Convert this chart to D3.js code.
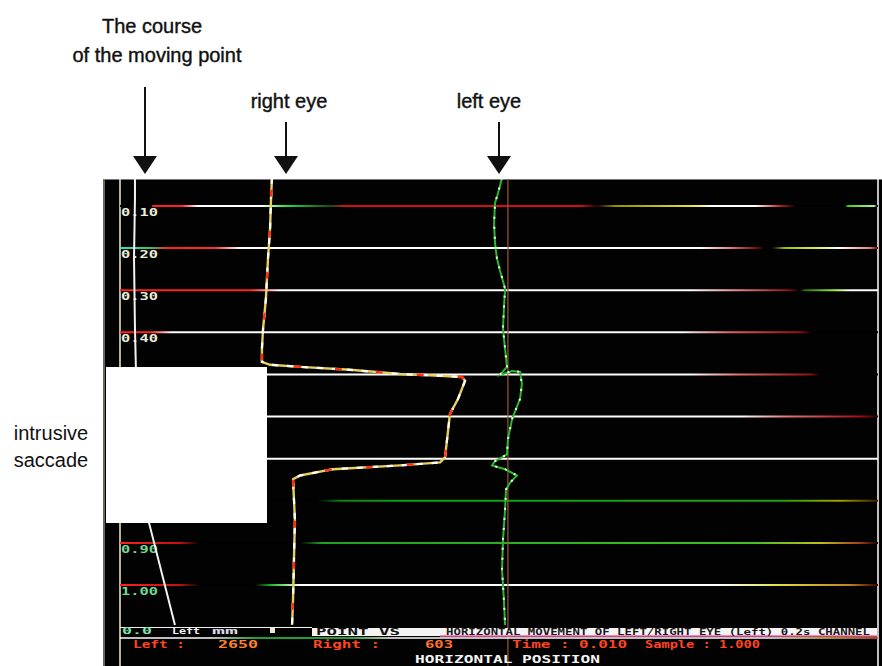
<!DOCTYPE html>
<html>
<head>
<meta charset="utf-8">
<script src="https://cdn.jsdelivr.net/npm/d3@7"></script>
<style>
  body{margin:0;background:#fff;}
  svg{display:block;}
</style>
</head>
<body>
<div id="chart-area"></div>
<script>
// Eye tracker recording: time runs downwards, horizontal position across

// time grid (s) and its labels
var tickTimes = [0.1,0.2,0.3,0.4,0.5,0.6,0.7,0.8,0.9,1.0]
var tickLabels = ["0.10","0.20","0.30","0.40","0.50","0.60","0.70","0.80","0.90","1.00"]

// the moving point (time s, horizontal position deg)
var pointTime = [0.033,0.081,0.224,0.391,0.487,0.852,1.095]
var pointPos  = [-19.21,-19.21,-19.26,-19.21,-19.16,-18.47,-17.10]

// right eye
var rightTime = [0.033,0.081,0.153,0.224,0.320,0.391,0.439,0.470,0.477,0.482,0.489,0.499,0.503,0.506,
                 0.515,0.558,0.594,0.654,0.697,0.709,0.716,0.725,0.740,0.749,0.797,0.845,0.940,1.036,1.095]
var rightPos  = [-11.98,-12.03,-12.08,-12.19,-12.30,-12.45,-12.51,-12.51,-12.08,-10.50,-7.86,-5.22,-3.11,-1.95,
                 -1.79,-2.16,-2.59,-2.74,-2.85,-3.11,-5.22,-8.76,-10.50,-10.87,-10.82,-10.77,-10.82,-10.87,-10.92]

// left eye
var leftTime = [0.033,0.069,0.093,0.141,0.188,0.224,0.253,0.296,0.343,0.391,0.439,0.482,0.501,0.492,0.494,
                0.523,0.558,0.606,0.654,0.690,0.706,0.716,0.725,0.740,0.756,0.773,0.821,0.893,0.964,1.036,1.095]
var leftPos  = [0.16,-0.05,-0.21,-0.26,-0.21,-0.11,0.05,0.32,0.26,0.21,0.32,0.42,0.05,0.69,1.11,
                1.21,1.11,0.69,0.47,0.42,-0.21,-0.37,0.32,0.95,0.60,0.37,0.32,0.21,0.16,0.26,0.32]

// target centre marker
var centerPos = 0.47

// colour of each grid row along its length: [pixel x, colour]
var rowStyles = [
  [[120,"#000"],[151,"#000"],[153,"#ff2020"],[182,"#ff2020"],[198,"#fff"],[262,"#fff"],[285,"#30e040"],[330,"#105010"],[345,"#d01010"],[580,"#d01010"],[598,"#200"],[615,"#909000"],[690,"#e0e040"],[712,"#fff"],[755,"#fff"],[780,"#c02020"],[796,"#000"],[845,"#000"],[848,"#40d020"],[874,"#b0f090"],[877,"#000"]],
  [[120,"#40e0d0"],[150,"#40c060"],[168,"#ff2020"],[215,"#ff3030"],[240,"#fff"],[700,"#fff"],[730,"#e08080"],[755,"#801010"],[765,"#000"],[772,"#000"],[785,"#a0c000"],[820,"#e0f060"],[840,"#fff"],[870,"#e08080"],[877,"#800"]],
  [[120,"#ff2020"],[250,"#ff2020"],[280,"#fff"],[690,"#fff"],[740,"#e08080"],[790,"#801010"],[800,"#000"],[805,"#207010"],[835,"#a0f040"],[850,"#fff"],[877,"#fff"]],
  [[120,"#ff2020"],[150,"#ff2020"],[172,"#fff"],[680,"#fff"],[730,"#e06060"],[800,"#901010"],[812,"#000"],[877,"#000"]],
  [[120,"#fff"],[690,"#fff"],[740,"#e07070"],[810,"#901010"],[820,"#000"],[877,"#000"]],
  [[120,"#fff"],[740,"#fff"],[790,"#e07070"],[860,"#a01010"],[877,"#300"]],
  [[120,"#fff"],[877,"#fff"]],
  [[120,"#000"],[318,"#000"],[340,"#108010"],[400,"#10a010"],[780,"#20a010"],[840,"#a0a000"],[877,"#402000"]],
  [[120,"#ff2020"],[180,"#c01010"],[200,"#000"],[300,"#000"],[322,"#20a020"],[750,"#40c020"],[820,"#c0c020"],[860,"#a04010"],[877,"#200"]],
  [[120,"#ff2020"],[180,"#c01010"],[200,"#000"],[255,"#000"],[272,"#20c020"],[300,"#fff"],[720,"#fff"],[780,"#e0e040"],[850,"#c08020"],[877,"#400"]]
]

var W = 882, H = 666
var panel = {left:103, top:179, right:882, bottom:666}

var svg = d3.select("#chart-area").append("svg")
    .attr("width",W).attr("height",H)
    .style("font-family","'Liberation Sans', Arial, sans-serif")

//Scales
var x = d3.scaleLinear().domain([-20,20]).range([120,878])
var y = d3.scaleLinear().domain([0.1,1.0]).range([206,585])

var defs = svg.append("defs")
defs.append("clipPath").attr("id","panelClip")
  .append("rect")
    .attr("x",panel.left).attr("y",panel.top)
    .attr("width",panel.right-panel.left).attr("height",panel.bottom-panel.top)

rowStyles.forEach((stops,i)=>{
    var g = defs.append("linearGradient")
        .attr("id","row"+i)
        .attr("gradientUnits","userSpaceOnUse")
        .attr("x1",120).attr("x2",878).attr("y1",0).attr("y2",0)
    stops.forEach((s)=>{
        g.append("stop")
            .attr("offset",Math.max(0,Math.min(1,(s[0]-120)/758)))
            .attr("stop-color",s[1])
    })
})

//Black screen
svg.append("rect")
    .attr("x",panel.left).attr("y",panel.top)
    .attr("width",panel.right-panel.left).attr("height",panel.bottom-panel.top)
    .attr("fill","#020202")

var screen = svg.append("g").attr("clip-path","url(#panelClip)")

//Screen borders
screen.append("line")
    .attr("x1",panel.left+1).attr("x2",panel.left+1).attr("y1",panel.top).attr("y2",panel.bottom)
    .attr("stroke","#8a8a80").attr("stroke-width",1.5)
screen.append("line")
    .attr("x1",panel.left).attr("x2",panel.right).attr("y1",panel.top+0.5).attr("y2",panel.top+0.5)
    .attr("stroke","#777").attr("stroke-width",1)
screen.append("line")
    .attr("x1",x(-20)).attr("x2",x(-20)).attr("y1",panel.top).attr("y2",panel.bottom)
    .attr("stroke","#e8e0b8").attr("stroke-width",1.6)
screen.append("line")
    .attr("x1",x(20)).attr("x2",x(20)).attr("y1",panel.top).attr("y2",panel.bottom)
    .attr("stroke","#f0f0f0").attr("stroke-width",1.6)

//Grid rows
screen.selectAll(".row")
    .data(tickTimes)
  .enter().append("line")
    .attr("class","row")
    .attr("x1",x(-20)).attr("x2",x(20))
    .attr("y1",(d)=>y(d)).attr("y2",(d)=>y(d))
    .attr("stroke",(d,i)=>"url(#row"+i+")")
    .attr("stroke-width",2)

//Centre marker
screen.append("line")
    .attr("x1",x(centerPos)).attr("x2",x(centerPos))
    .attr("y1",panel.top).attr("y2",panel.bottom)
    .attr("stroke","#9a5a3a").attr("stroke-width",1.4).attr("opacity",0.85)

//Time labels
screen.selectAll(".tlabel")
    .data(tickTimes)
  .enter().append("text")
    .attr("class","tlabel")
    .attr("x",x(-20)+1)
    .attr("y",(d)=>y(d)+10)
    .attr("textLength",37).attr("lengthAdjust","spacingAndGlyphs")
    .attr("font-family","'DejaVu Sans Mono', monospace")
    .attr("font-weight","bold").attr("font-size","10px")
    .attr("fill",(d)=>d>0.85 ? "#70d890" : "#e8eed8")
    .text((d,i)=>tickLabels[i])

var line = d3.line().x((d)=>x(d[1])).y((d)=>y(d[0]))
var pointData = d3.zip(pointTime,pointPos)
var rightData = d3.zip(rightTime,rightPos)
var leftData = d3.zip(leftTime,leftPos)

//Moving point
screen.append("path").datum(pointData)
    .attr("d",line).attr("fill","none")
    .attr("stroke","#f2f2f2").attr("stroke-width",2)

//Right eye
screen.append("path").datum(rightData)
    .attr("d",line).attr("fill","none")
    .attr("stroke","#e8d060").attr("stroke-width",2.4)
screen.append("path").datum(rightData)
    .attr("d",line).attr("fill","none")
    .attr("stroke","#ffffff").attr("stroke-width",2.2)
    .attr("stroke-dasharray","6 9")
screen.append("path").datum(rightData)
    .attr("d",line).attr("fill","none")
    .attr("stroke","#ff3010").attr("stroke-width",2.4)
    .attr("stroke-dasharray","7 34").attr("stroke-dashoffset",-12)

//Left eye
screen.append("path").datum(leftData)
    .attr("d",line).attr("fill","none")
    .attr("stroke","#2cb82c").attr("stroke-width",2)
screen.append("path").datum(leftData)
    .attr("d",line).attr("fill","none")
    .attr("stroke","#f0fff0").attr("stroke-width",2)
    .attr("stroke-dasharray","2 8")

//Status area at the bottom of the screen
var mono = "'DejaVu Sans Mono', monospace"
screen.append("line")
    .attr("x1",x(-20)).attr("x2",312).attr("y1",627.5).attr("y2",627.5)
    .attr("stroke","#e8f0f0").attr("stroke-width",1.2)
screen.append("rect")
    .attr("x",312).attr("y",628).attr("width",565).attr("height",8)
    .attr("fill","#f4f4f4")
screen.append("line")
    .attr("x1",440).attr("x2",877).attr("y1",636).attr("y2",636)
    .attr("stroke","#ff5cb0").attr("stroke-width",1.6)
var statusLine = defs.append("linearGradient").attr("id","statusLine")
    .attr("gradientUnits","userSpaceOnUse").attr("x1",120).attr("x2",878).attr("y1",0).attr("y2",0)
;[[0,"#fff"],[0.12,"#fff"],[0.18,"#30d040"],[0.3,"#30d040"],[0.36,"#fff"],[0.85,"#fff"],[0.93,"#e0d040"],[1,"#d06020"]]
    .forEach((s)=>statusLine.append("stop").attr("offset",s[0]).attr("stop-color",s[1]))
screen.append("line")
    .attr("x1",x(-20)).attr("x2",x(20)).attr("y1",638).attr("y2",638)
    .attr("stroke","url(#statusLine)").attr("stroke-width",1.6)

var statusTop = [
    {t:"0.0",   x:122, len:30,  c:"#80e0b0"},
    {t:"Left",  x:172, len:28,  c:"#f0f0f0"},
    {t:"mm",    x:212, len:26,  c:"#d8d8e8"}
]
statusTop.forEach((s)=>{
    screen.append("text").attr("x",s.x).attr("y",634)
        .attr("textLength",s.len).attr("lengthAdjust","spacingAndGlyphs")
        .attr("font-family",mono).attr("font-weight","bold").attr("font-size","8px")
        .attr("fill",s.c).text(s.t)
})
screen.append("rect").attr("x",270).attr("y",628).attr("width",5).attr("height",5).attr("fill","#e8e8d0")
screen.append("text").attr("x",316).attr("y",635)
    .attr("textLength",84).attr("lengthAdjust","spacingAndGlyphs")
    .attr("font-family",mono).attr("font-weight","bold").attr("font-size","8px")
    .attr("fill","#111").text("POINT VS")
screen.append("text").attr("x",446).attr("y",635)
    .attr("textLength",424).attr("lengthAdjust","spacingAndGlyphs")
    .attr("font-family",mono).attr("font-weight","bold").attr("font-size","8px")
    .attr("fill","#1a1a1a").text("HORIZONTAL MOVEMENT OF LEFT/RIGHT EYE (Left) 0.2s  CHANNEL")

var statusMid = [
    {t:"Left :",        x:133, len:52,  c:"#ff4422"},
    {t:"2650",          x:218, len:40,  c:"#ff8030"},
    {t:"Right :",       x:313, len:67,  c:"#ff4422"},
    {t:"603",           x:425, len:28,  c:"#ff7030"},
    {t:"Time : 0.010",  x:512, len:115, c:"#ff4422"},
    {t:"Sample : 1.000",x:645, len:115, c:"#ff4422"}
]
statusMid.forEach((s)=>{
    screen.append("text").attr("x",s.x).attr("y",648)
        .attr("textLength",s.len).attr("lengthAdjust","spacingAndGlyphs")
        .attr("font-family",mono).attr("font-weight","bold").attr("font-size","10px")
        .attr("fill",s.c).text(s.t)
})
screen.append("text").attr("x",415).attr("y",663)
    .attr("textLength",185).attr("lengthAdjust","spacingAndGlyphs")
    .attr("font-family",mono).attr("font-weight","bold").attr("font-size","10px")
    .attr("fill","#f4f4f4").text("HORIZONTAL POSITION")

//White box that hides the left part of the saccade
svg.append("rect")
    .attr("x",106).attr("y",367).attr("width",161).attr("height",156)
    .attr("fill","#fff")

//Annotations
var notes = [
    {t:"The course",          x:152, y:33},
    {t:"of the moving point", x:157, y:62},
    {t:"right eye",           x:289, y:108},
    {t:"left eye",            x:489, y:108}
]
svg.selectAll(".note")
    .data(notes)
  .enter().append("text")
    .attr("class","note")
    .attr("x",(d)=>d.x).attr("y",(d)=>d.y)
    .attr("text-anchor","middle")
    .attr("font-size","20px").attr("fill","#111")
    .attr("stroke","#111").attr("stroke-width",0.4)
    .text((d)=>d.t)

var arrows = [
    {x:145, y1:87},
    {x:286, y1:122},
    {x:499, y1:122}
]
arrows.forEach((a)=>{
    svg.append("line")
        .attr("x1",a.x).attr("x2",a.x).attr("y1",a.y1).attr("y2",158)
        .attr("stroke","#111").attr("stroke-width",2)
    svg.append("path")
        .attr("d","M"+(a.x-12)+",156 L"+(a.x+12)+",156 L"+a.x+",174 Z")
        .attr("fill","#111")
})

svg.append("text").attr("x",51).attr("y",440)
    .attr("text-anchor","middle").attr("font-size","20px").attr("fill","#111")
    .text("intrusive")
svg.append("text").attr("x",51).attr("y",467)
    .attr("text-anchor","middle").attr("font-size","20px").attr("fill","#111")
    .text("saccade")
</script>
</body>
</html>
